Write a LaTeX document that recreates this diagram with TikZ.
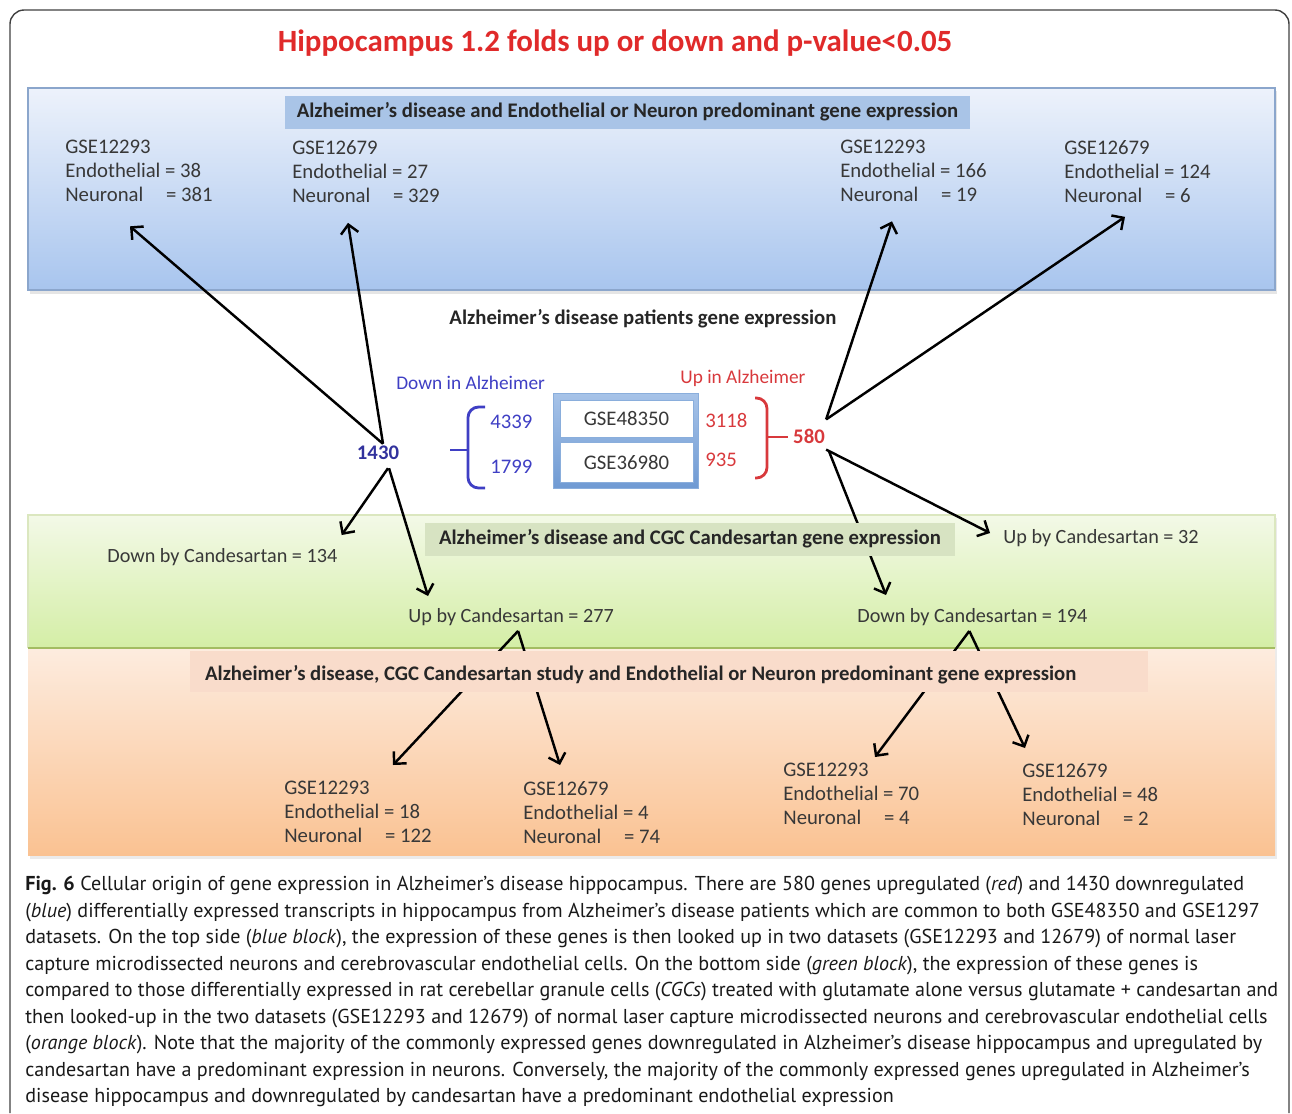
\documentclass[tikz,border=0pt]{standalone}
\usepackage{fontspec}
\setmainfont{Carlito}
\newfontfamily\capfont{PT Sans}
\usetikzlibrary{calc,arrows.meta}

\definecolor{ttlred}{HTML}{E02A2A}
\definecolor{dnblue}{HTML}{3F3FC4}
\definecolor{upred}{HTML}{D8393C}
\definecolor{txtgray}{HTML}{383838}
\definecolor{bluetop}{HTML}{EDF2FB}
\definecolor{bluebot}{HTML}{A8C5EE}
\definecolor{blueline}{HTML}{8BA6CC}
\definecolor{bluelab}{HTML}{A9C4E7}
\definecolor{greentop}{HTML}{F3F9E7}
\definecolor{greenbot}{HTML}{D4EEA6}
\definecolor{greenline}{HTML}{A3BC62}
\definecolor{greenlab}{HTML}{D7E3C2}
\definecolor{orgtop}{HTML}{FDECDF}
\definecolor{orgbot}{HTML}{FAC292}
\definecolor{orglab}{HTML}{F9DCCB}
\definecolor{gsetop}{HTML}{A7C3E8}
\definecolor{gsebot}{HTML}{6F9AD3}
\definecolor{gseline}{HTML}{8AAEDC}

\begin{document}
\begin{tikzpicture}[x=0.02cm,y=-0.02cm,
    every node/.style={inner sep=0pt,text=txtgray,font=\fontsize{11.8}{13.66}\selectfont},
    gse/.style={anchor=north west,align=left},
    cand/.style={anchor=west,font=\fontsize{11.5}{13}\selectfont},
    banner/.style={font=\fontsize{11.8}{13}\selectfont\bfseries,text=black!85},
    arr/.style={->,>={Straight Barb[length=5pt,width=10pt]},line width=1.4pt,black}]
  \useasboundingbox (0,0) rectangle (1292,1113);
  % frame and title
  \draw[black!75,line width=0.8pt,rounded corners=8pt] (10,1113) -- (10,10) -- (1289,10) -- (1289,1113);
  \node[font=\fontsize{17.6}{20}\selectfont\bfseries,text=ttlred] (title) at (615,43) {Hippocampus 1.2 folds up or down and p-value<0.05};

  % coloured blocks
  \fill[black!10] (30,91) rectangle (1277,294);
  \shade[top color=bluetop,bottom color=bluebot] (28,88) rectangle (1275,290);
  \draw[blueline,line width=0.8pt] (28,88) rectangle (1275,290);
  \fill[black!8] (30,518) rectangle (1277,859);
  \shade[top color=greentop,bottom color=greenbot] (28,515) rectangle (1275,648);
  \draw[greentop!70!greenline,line width=0.6pt] (28,648) -- (28,515) -- (1275,515) -- (1275,648);
  \shade[top color=orgtop,bottom color=orgbot] (28,648) rectangle (1275,855);
  \draw[greenline,line width=1.4pt] (28,648) -- (1275,648);

  % top block
  \node[gse] (b1) at (65,140) {GSE12293\\Endothelial = 38\\Neuronal\hspace{1.1em}= 381};
  \node[gse] (b2) at (292,140) {GSE12679\\Endothelial = 27\\Neuronal\hspace{1.1em}= 329};
  \node[gse] (b3) at (840,140) {GSE12293\\Endothelial = 166\\Neuronal\hspace{1.1em}= 19};
  \node[gse] (b4) at (1064,140) {GSE12679\\Endothelial = 124\\Neuronal\hspace{1.1em}= 6};

  % patients
  \node[banner] (pat) at (643,319) {Alzheimer’s disease patients gene expression};
  \node[anchor=west,text=dnblue,font=\fontsize{11}{13}\selectfont] (dn) at (396,383) {Down in Alzheimer};
  \node[anchor=west,text=upred,font=\fontsize{11}{13}\selectfont] (up) at (680,378) {Up in Alzheimer};
  \shade[top color=gsetop,bottom color=gsebot,draw=gseline] (553,393) rectangle (698,488);
  \node[fill=white,draw=gseline,minimum width=2.66cm,minimum height=0.74cm] (g1) at (626.5,418.5) {GSE48350};
  \node[fill=white,draw=gseline,minimum width=2.66cm,minimum height=0.8cm] (g2) at (626.5,462) {GSE36980};
  \node[anchor=west,text=dnblue] (n4339) at (490,422) {4339};
  \node[anchor=west,text=dnblue] (n1799) at (490,467) {1799};
  \node[anchor=west,text=upred] (n3118) at (705,420) {3118};
  \node[anchor=west,text=upred] (n935) at (705,460) {935};
  \node[text=dnblue!80!black,font=\fontsize{11.8}{13}\selectfont\bfseries] (n1430) at (378,453) {1430};
  \node[text=upred,font=\fontsize{11.8}{13}\selectfont\bfseries] (n580) at (809,436) {580};
  \draw[dnblue,line width=1.6pt,rounded corners=6pt] (485,407) -- (468,407) -- (468,488) -- (485,488);
  \draw[dnblue,line width=1.6pt] (450,450) -- (468,450);
  \draw[upred,line width=1.6pt,rounded corners=6pt] (755,398) -- (767,398) -- (767,478) -- (755,478);
  \draw[upred,line width=1.6pt] (767,437) -- (788,437);

  % green block
  \node[cand] (d134) at (107,557) {Down by Candesartan = 134};
  \node[cand] (u32) at (1003,538) {Up by Candesartan = 32};
  \node[cand] (u277) at (408,617) {Up by Candesartan = 277};
  \node[cand] (d194) at (857,617) {Down by Candesartan = 194};

  % orange block
  \node[gse] (o1) at (284,781) {GSE12293\\Endothelial = 18\\Neuronal\hspace{1.1em}= 122};
  \node[gse] (o2) at (523,781) {GSE12679\\Endothelial = 4\\Neuronal\hspace{1.1em}= 74};
  \node[gse] (o3) at (783,763) {GSE12293\\Endothelial = 70\\Neuronal\hspace{1.1em}= 4};
  \node[gse] (o4) at (1022,763) {GSE12679\\Endothelial = 48\\Neuronal\hspace{1.1em}= 2};

  % arrows
  \draw[arr] ($(n1430.north)+(5,-2)$) -- ($(b1.south west)+(65,24)$);
  \draw[arr] ($(n1430.north)+(5,-2)$) -- ($(b2.south west)+(56,20)$);
  \draw[arr] ($(n1430.south)+(10,8)$) -- ($(d134.north east)+(4,-13)$);
  \draw[arr] ($(n1430.south)+(11,8)$) -- ($(u277.north west)+(20,-12)$);
  \draw[arr] ($(n580.north east)+(1,-9)$) -- ($(b3.south west)+(52,19)$);
  \draw[arr] ($(n580.north east)+(1,-9)$) -- ($(b4.south west)+(61,14)$);
  \draw[arr] ($(n580.south east)+(1,6)$) -- ($(u32.west)+(-13,-5)$);
  \draw[arr] ($(n580.south east)+(4,8)$) -- ($(d194.north west)+(29,-13)$);
  \draw[arr] ($(u277.south)+(7,5)$) -- ($(o1.north west)+(109,-16)$);
  \draw[arr] ($(u277.south)+(7,5)$) -- ($(o2.north west)+(37,-16)$);
  \draw[arr] ($(d194.south)+(-3,5)$) -- ($(o3.north west)+(92,-6)$);
  \draw[arr] ($(d194.south)+(-3,5)$) -- ($(o4.north west)+(3,-15)$);

  % banners
  \node[banner,fill=bluelab,minimum width=13.7cm,minimum height=0.66cm] (lab1) at (627.5,112) {Alzheimer’s disease and Endothelial or Neuron predominant gene expression};
  \node[banner,fill=greenlab,minimum width=10.6cm,minimum height=0.66cm] (lab2) at (690,539) {Alzheimer’s disease and CGC Candesartan gene expression};
  \node[fill=orglab,minimum width=19.16cm,minimum height=0.82cm] (lab3) at (669,671) {};
  \node[banner,anchor=west] (lab3t) at ($(lab3.west)+(15,4)$) {Alzheimer’s disease, CGC Candesartan study and Endothelial or Neuron predominant gene expression};

  % caption
  \node[anchor=north west,align=left,text=black!90,font=\capfont\fontsize{11.45}{15.1}\selectfont] (cap) at (25,876) {%
    \textbf{Fig. 6} Cellular origin of gene expression in Alzheimer’s disease hippocampus. There are 580 genes upregulated (\emph{red}) and 1430 downregulated\\
    (\emph{blue}) differentially expressed transcripts in hippocampus from Alzheimer’s disease patients which are common to both GSE48350 and GSE1297\\
    datasets. On the top side (\emph{blue block}), the expression of these genes is then looked up in two datasets (GSE12293 and 12679) of normal laser\\
    capture microdissected neurons and cerebrovascular endothelial cells. On the bottom side (\emph{green block}), the expression of these genes is\\
    compared to those differentially expressed in rat cerebellar granule cells (\emph{CGCs}) treated with glutamate alone versus glutamate + candesartan and\\
    then looked-up in the two datasets (GSE12293 and 12679) of normal laser capture microdissected neurons and cerebrovascular endothelial cells\\
    (\emph{orange block}). Note that the majority of the commonly expressed genes downregulated in Alzheimer’s disease hippocampus and upregulated by\\
    candesartan have a predominant expression in neurons. Conversely, the majority of the commonly expressed genes upregulated in Alzheimer’s\\
    disease hippocampus and downregulated by candesartan have a predominant endothelial expression};
\end{tikzpicture}
\end{document}
